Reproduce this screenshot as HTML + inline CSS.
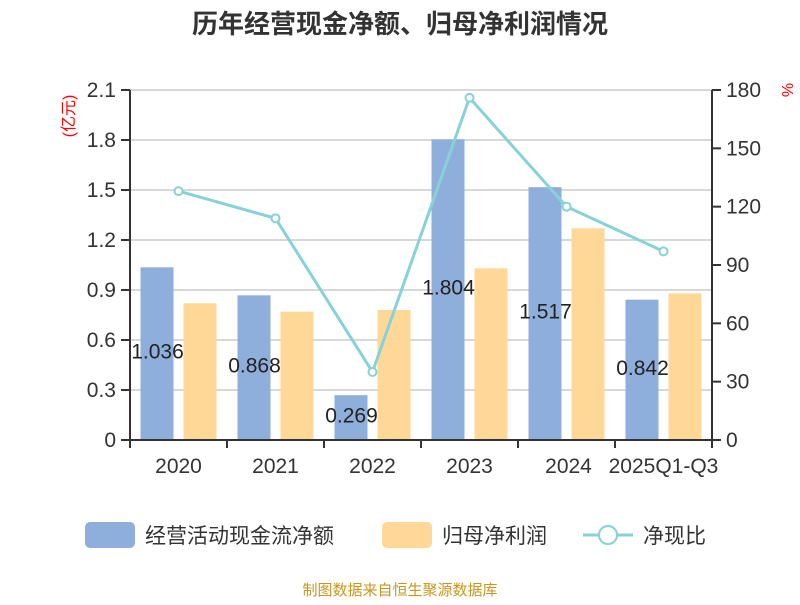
<!DOCTYPE html>
<html><head><meta charset="utf-8">
<style>
body{margin:0;background:#fff;}
svg text{font-family:"Liberation Sans","Noto Sans CJK SC",sans-serif;}
</style></head>
<body>
<svg id="chart" width="800" height="600" xmlns="http://www.w3.org/2000/svg">
<text x="400" y="33" text-anchor="middle" font-size="26" font-weight="bold" fill="#333">历年经营现金净额、归母净利润情况</text>
<text transform="translate(74,116) rotate(-90)" text-anchor="middle" font-size="16" fill="#f00">(亿元)</text>
<text transform="translate(782,90) rotate(90)" text-anchor="middle" font-size="16" fill="#f00">%</text>
<g id="grid"></g>
<g id="bars"></g>
<g id="axes"></g>
<g id="line"></g>
<g id="legend">
 <g>
  <rect x="85" y="522" width="50" height="26" rx="5" fill="#8eaedb"/>
  <text x="145" y="543" font-size="21" fill="#333">经营活动现金流净额</text></g>
 <g>
  <rect x="382" y="522" width="50" height="26" rx="5" fill="#ffd797"/>
  <text x="442" y="543" font-size="21" fill="#333">归母净利润</text></g>
 <g>
  <line x1="583" y1="535" x2="633" y2="535" stroke="#86d2d8" stroke-width="3"/>
  <circle cx="608" cy="535" r="9" fill="#fff" stroke="#86d2d8" stroke-width="2"/>
  <text x="643" y="543" font-size="21" fill="#333">净现比</text></g>
</g>
<text x="400" y="595" text-anchor="middle" font-size="15" fill="#c8961e">制图数据来自恒生聚源数据库</text>
</svg>
<script>
const categories=["2020","2021","2022","2023","2024","2025Q1-Q3"];
const cashValues=[1.036,0.868,0.269,1.804,1.517,0.842];
const profitValues=[0.82,0.77,0.78,1.03,1.27,0.88];
const ratioValues=[128,114,35,176,120,97];
const leftTicks=[0,0.3,0.6,0.9,1.2,1.5,1.8,2.1];
const rightTicks=[0,30,60,90,120,150,180];
const NS="http://www.w3.org/2000/svg";
const X0=130,X1=712,Y0=440,Y1=90;
const band=(X1-X0)/categories.length;
const yL=v=>Y0-(v/2.1)*(Y0-Y1);
const yR=v=>Y0-(v/180)*(Y0-Y1);
const xC=i=>X0+band*(i+0.5);
function mk(tag,attrs,parent,txt){const e=document.createElementNS(NS,tag);for(const k in attrs)e.setAttribute(k,attrs[k]);if(txt!==undefined)e.textContent=txt;parent.appendChild(e);return e;}
const grid=document.getElementById('grid'),axes=document.getElementById('axes'),bars=document.getElementById('bars'),line=document.getElementById('line');
leftTicks.forEach(t=>{const y=yL(t);
 if(t>0){const g=mk('line',{x1:X0,x2:X1,y1:y,y2:y,stroke:'#ccc','stroke-width':1.5},grid);
 
 }
 mk('line',{x1:X0-9,x2:X0,y1:y,y2:y,stroke:'#333','stroke-width':2},axes);
 const l=mk('text',{x:X0-14,y:y+7,'text-anchor':'end','font-size':21,fill:'#333'},axes,t===0?'0':t.toFixed(1));
 
 
});
rightTicks.forEach(t=>{const y=yR(t);
 mk('line',{x1:X1,x2:X1+9,y1:y,y2:y,stroke:'#333','stroke-width':2},axes);
 const l=mk('text',{x:X1+14,y:y+7,'font-size':21,fill:'#333'},axes,String(t));
 
 
});
mk('line',{x1:X0,x2:X0,y1:Y1,y2:Y0,stroke:'#333','stroke-width':2},axes);
mk('line',{x1:X1,x2:X1,y1:Y1,y2:Y0,stroke:'#333','stroke-width':2},axes);
mk('line',{x1:X0,x2:X1,y1:Y0,y2:Y0,stroke:'#333','stroke-width':2},axes);
for(let i=0;i<=categories.length;i++){const x=X0+band*i;mk('line',{x1:x,x2:x,y1:Y0,y2:Y0+8,stroke:'#333','stroke-width':2},axes);}
categories.forEach((c,i)=>{
 const lx=i===4?xC(i)+2:xC(i);
 const l=mk('text',{x:lx,y:473,'text-anchor':'middle','font-size':21,fill:'#333'},axes,c);
 
 
 const cx=xC(i);
 const b=mk('rect',{x:cx-38,width:33,y:yL(cashValues[i]),height:Y0-yL(cashValues[i]),fill:'#8eaedb'},bars);
 
 
 const p=mk('rect',{x:cx+5,width:33,y:yL(profitValues[i]),height:Y0-yL(profitValues[i]),fill:'#ffd797'},bars);
 
 
 const v=mk('text',{x:cx-21,y:(yL(cashValues[i])+Y0)/2+5,'text-anchor':'middle','font-size':21,fill:'#222'},bars,cashValues[i].toFixed(3));
 
 
});
const pts=ratioValues.map((v,i)=>xC(i)+','+yR(v)).join(' ');
mk('polyline',{points:pts,fill:'none',stroke:'#86d2d8','stroke-width':3},line);
ratioValues.forEach((v,i)=>{const c=mk('circle',{cx:xC(i),cy:yR(v),r:4,fill:'#fff',stroke:'#86d2d8','stroke-width':2},line);
 
 });
</script>
</body></html>
